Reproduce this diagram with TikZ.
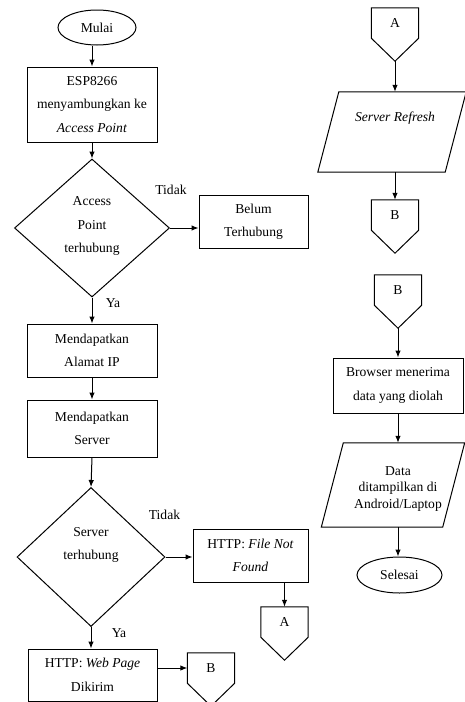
\documentclass[tikz,border=0pt]{standalone}
\usepackage{fontspec}
\setmainfont{Liberation Serif}
\usetikzlibrary{shapes.geometric,arrows.meta,calc}
\newcommand\offpagedraw[1]{\draw[line width=1pt] (#1.north west) -- (#1.north east) -- (#1.south east) -- ([yshift=-23pt]#1.south) -- (#1.south west) -- cycle;}
\newcommand\paradraw[2]{\draw[line width=1pt] ([xshift=#2]#1.north west) -- ([xshift=#2]#1.north east) -- ([xshift=-#2]#1.south east) -- ([xshift=-#2]#1.south west) -- cycle;}
\begin{document}
\begin{tikzpicture}[x=1pt,y=-1pt,
  base/.style={font=\fontsize{13.6}{23.5}\selectfont, align=center, inner sep=0pt, text=black},
  box/.style={base, draw, line width=1pt, rectangle},
  term/.style={base, draw, line width=1pt, ellipse},
  dia/.style={base, draw, line width=1pt, diamond},
  offpage/.style={base, rectangle, minimum width=47pt, minimum height=30pt},
  para/.style={base, rectangle},
  arr/.style={-{Latex[length=7pt,width=5.5pt]}, line width=1pt}]
\useasboundingbox (0,0) rectangle (465,702);
\clip (0,0) rectangle (465,702);
\fill[white] (0,0) rectangle (465,702);

% left column
\node[term, minimum width=78pt, minimum height=35pt] (mulai) at (97,27.5) {Mulai};
\node[box, minimum width=130pt, minimum height=75pt] (esp) at (92,104.5) {ESP8266\\menyambungkan ke\\\textit{Access Point}};
\node[dia, minimum width=155pt, minimum height=138pt] (d1) at (92,228) {};
\node[base] (d1t) at (92,226) {Access\\Point\\terhubung};
\node[box, minimum width=109pt, minimum height=53pt] (belum) at (253.5,221.5) {Belum\\Terhubung};
\node[box, minimum width=130pt, minimum height=53pt] (ip) at (92,350.5) {Mendapatkan\\Alamat IP};
\node[box, minimum width=130pt, minimum height=57pt] (srv) at (92,428.5) {Mendapatkan\\Server};
\node[dia, minimum width=148pt, minimum height=139pt] (d2) at (91,557) {};
\node[base] (d2t) at (91,545) {Server\\terhubung};
\node[box, minimum width=115pt, minimum height=53pt] (nf) at (250.5,555.5) {HTTP: \textit{File Not}\\\textit{Found}};
\node[offpage] (cA) at (284.5,622) {A};
\offpagedraw{cA}
\node[box, minimum width=129pt, minimum height=52pt] (web) at (92.5,675) {HTTP: \textit{Web Page}\\Dikirim};
\node[offpage] (cB) at (211,668) {B};
\offpagedraw{cB}

% labels
\node[base] (t1) at (171,190) {Tidak};
\node[base] (y1) at (113,303) {Ya};
\node[base] (t2) at (164.5,515) {Tidak};
\node[base] (y2) at (119,633) {Ya};

% right column
\node[offpage] (cA2) at (395,23) {A};
\offpagedraw{cA2}
\coordinate (cA2tip) at ([yshift=-23pt]cA2.south);
\node[para, minimum width=127pt, minimum height=80pt] (p1) at (392,132) {};
\paradraw{p1}{10.5pt}
\node[base] (p1t) at (395,118) {\textit{Server Refresh}};
\node[offpage] (cB2) at (395,215) {B};
\offpagedraw{cB2}
\node[offpage] (cB3) at (398,290) {B};
\offpagedraw{cB3}
\coordinate (cB3tip) at ([yshift=-23pt]cB3.south);
\node[box, minimum width=130pt, minimum height=55pt] (br) at (398,385.5) {Browser menerima\\data yang diolah};
\node[para, minimum width=121pt, minimum height=84pt] (p2) at (393,485) {};
\paradraw{p2}{11pt}
\node[base, font=\fontsize{13.6}{16.5}\selectfont] (p2t) at (398,488.5) {Data\\ditampilkan di\\Android/Laptop};
\node[term, minimum width=85pt, minimum height=36pt] (sel) at (399.5,575) {Selesai};

% connectors
\draw[arr] (mulai.south -| esp.north) -- (esp.north);
\draw[arr] (esp.south) -- (d1.north);
\draw[arr] (d1.east) -- (d1.east -| belum.west);
\draw[arr] (d1.south) -- (ip.north);
\draw[arr] (ip.south) -- (srv.north);
\draw[arr] (srv.south) -- (d2.north);
\draw[arr] (d2.east) -- (d2.east -| nf.west);
\draw[arr] (cA.north |- nf.south) -- (cA.north);
\draw[arr] (d2.south) -- (d2.south |- web.north);
\draw[arr] (web.east |- cB.west) -- (cB.west);
\draw[arr] (cA2tip) -- (cA2tip |- p1.north);
\draw[arr] (cB2.north |- p1.south) -- (cB2.north);
\draw[arr] (cB3tip) -- (cB3tip |- br.north);
\draw[arr] (br.south) -- (br.south |- p2.north);
\draw[arr] (br.south |- p2.south) -- (br.south |- sel.north);
\end{tikzpicture}
\end{document}
